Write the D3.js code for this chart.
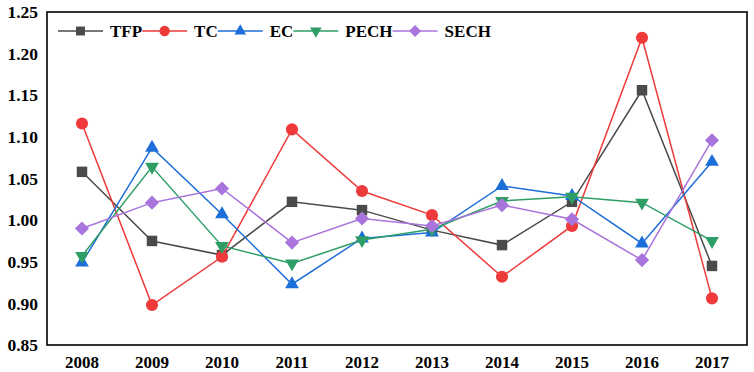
<!DOCTYPE html>
<html>
<head>
<meta charset="utf-8">
<script src="https://cdn.jsdelivr.net/npm/d3@7"></script>
<style>
  body { margin: 0; background: #fff; }
  svg { display: block; }
</style>
</head>
<body>
<div id="chart"></div>
<script>
// chart values
const years = ["2008", "2009", "2010", "2011", "2012", "2013", "2014", "2015", "2016", "2017"];
const tfp  = [1.058, 0.975, 0.958, 1.022, 1.012, 0.988, 0.970, 1.022, 1.156, 0.945];
const tc   = [1.116, 0.898, 0.956, 1.109, 1.035, 1.006, 0.932, 0.993, 1.219, 0.906];
const ec   = [0.949, 1.087, 1.007, 0.923, 0.978, 0.985, 1.041, 1.029, 0.972, 1.070];
const pech = [0.957, 1.064, 0.969, 0.948, 0.976, 0.989, 1.023, 1.028, 1.021, 0.975];
const sech = [0.990, 1.021, 1.038, 0.973, 1.002, 0.993, 1.018, 1.001, 0.952, 1.096];
const yTicks = [0.85, 0.90, 0.95, 1.00, 1.05, 1.10, 1.15, 1.20, 1.25];

const series = [
    { name: "TFP",  values: tfp,  color: "#4a4a4a", shape: "square" },
    { name: "TC",   values: tc,   color: "#ee3a3a", shape: "circle" },
    { name: "EC",   values: ec,   color: "#1c6ed8", shape: "triangle" },
    { name: "PECH", values: pech, color: "#2f9e66", shape: "triangleDown" },
    { name: "SECH", values: sech, color: "#a974dc", shape: "diamond" }
];

const width = 754, height = 372;
const margin = { top: 12, right: 7, bottom: 27, left: 47 };
const font = "'Liberation Serif', 'Times New Roman', serif";

const x = d3.scalePoint()
    .domain(years)
    .range([margin.left, width - margin.right])
    .padding(0.5);

const y = d3.scaleLinear()
    .domain([0.85, 1.25])
    .range([height - margin.bottom, margin.top]);

// marker path per shape, centred at 0,0
const marker = function (shape, scale) {
    const k = scale || 1;
    if (shape === "square") return d3.symbol(d3.symbolSquare, 110 * k * k)();
    if (shape === "circle") return d3.symbol(d3.symbolCircle, 115 * k * k)();
    if (shape === "diamond") return d3.symbol(d3.symbolSquare, 100 * k * k)();
    return d3.symbol(d3.symbolTriangle, 82 * k * k)();
};
const rotation = function (shape) {
    if (shape === "triangleDown") return 180;
    if (shape === "diamond") return 45;
    return 0;
};

const svg = d3.select("#chart").append("svg")
    .attr("width", width)
    .attr("height", height);

// y axis labels
svg.append("g")
    .attr("font-family", font)
    .attr("font-weight", "bold")
    .attr("font-size", 17.5)
    .selectAll("text")
    .data(yTicks)
    .join("text")
    .attr("x", margin.left - 9)
    .attr("y", d => y(d))
    .attr("dy", "0.35em")
    .attr("text-anchor", "end")
    .text(d => d.toFixed(2));

// x axis labels
svg.append("g")
    .attr("font-family", font)
    .attr("font-weight", "bold")
    .attr("font-size", 17)
    .selectAll("text")
    .data(years)
    .join("text")
    .attr("x", d => x(d))
    .attr("y", height - margin.bottom + 23)
    .attr("text-anchor", "middle")
    .text(d => d);

const line = d3.line()
    .x((d, i) => x(years[i]))
    .y(d => y(d));

series.forEach(s => {
    const g = svg.append("g");
    g.append("path")
        .attr("d", line(s.values))
        .attr("fill", "none")
        .attr("stroke", s.color)
        .attr("stroke-width", 1.5);
    g.selectAll("path.pt")
        .data(s.values)
        .join("path")
        .attr("class", "pt")
        .attr("d", marker(s.shape))
        .attr("fill", s.color)
        .attr("transform", (d, i) => `translate(${x(years[i])},${y(d)}) rotate(${rotation(s.shape)})`);
});

// plot frame
svg.append("rect")
    .attr("x", margin.left)
    .attr("y", margin.top)
    .attr("width", width - margin.left - margin.right)
    .attr("height", height - margin.top - margin.bottom)
    .attr("fill", "none")
    .attr("stroke", "#000")
    .attr("stroke-width", 1.6);

// legend: line + marker + bold label, packed in a row
const legend = svg.append("g")
    .attr("font-family", font)
    .attr("font-weight", "bold")
    .attr("font-size", 17);
let lx = 58;
const ly = 31;
series.forEach(s => {
    legend.append("line")
        .attr("x1", lx).attr("x2", lx + 45)
        .attr("y1", ly).attr("y2", ly)
        .attr("stroke", s.color)
        .attr("stroke-width", 1.5);
    legend.append("path")
        .attr("d", marker(s.shape, 0.85))
        .attr("fill", s.color)
        .attr("transform", `translate(${lx + 22.5},${ly}) rotate(${rotation(s.shape)})`);
    const t = legend.append("text")
        .attr("x", lx + 52)
        .attr("y", ly)
        .attr("dy", "0.35em")
        .text(s.name);
    lx = lx + 52 + t.node().getComputedTextLength();
});
</script>
</body>
</html>
